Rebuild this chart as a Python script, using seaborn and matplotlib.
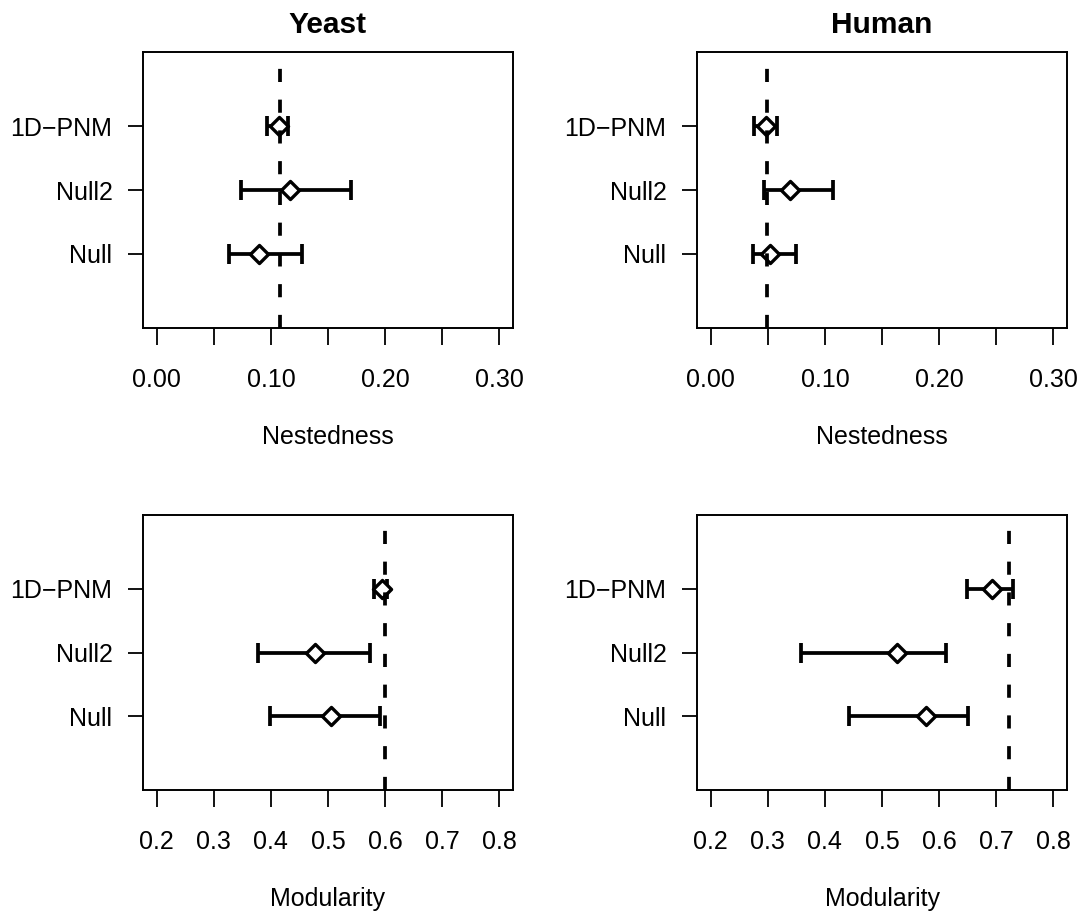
import numpy as np
import pandas as pd
import matplotlib
matplotlib.use('Agg')
import matplotlib.pyplot as plt
import seaborn as sns

# model labels, bottom to top
models = ['Null', 'Null2', '1D\u2212PNM']

# Yeast nestedness: point estimate and interval
yeast_nest_mid = [0.090, 0.117, 0.107]
yeast_nest_low = [0.063, 0.074, 0.097]
yeast_nest_high = [0.127, 0.170, 0.115]
yeast_nest_obs = 0.108

# Human nestedness
human_nest_mid = [0.052, 0.069, 0.048]
human_nest_low = [0.037, 0.047, 0.038]
human_nest_high = [0.075, 0.107, 0.058]
human_nest_obs = 0.049

# Yeast modularity
yeast_mod_mid = [0.505, 0.478, 0.595]
yeast_mod_low = [0.398, 0.377, 0.581]
yeast_mod_high = [0.591, 0.574, 0.604]
yeast_mod_obs = 0.600

# Human modularity
human_mod_mid = [0.577, 0.526, 0.693]
human_mod_low = [0.443, 0.359, 0.649]
human_mod_high = [0.651, 0.612, 0.730]
human_mod_obs = 0.722

nest_ticks = [0.0, 0.05, 0.10, 0.15, 0.20, 0.25, 0.30]
nest_labels = ['0.00', '', '0.10', '', '0.20', '', '0.30']
mod_ticks = [0.2, 0.3, 0.4, 0.5, 0.6, 0.7, 0.8]
mod_labels = ['0.2', '0.3', '0.4', '0.5', '0.6', '0.7', '0.8']

sns.set_theme(style='ticks')
plt.rcParams['font.family'] = ['Liberation Sans', 'DejaVu Sans']
plt.rcParams['text.color'] = 'black'
plt.rcParams['axes.labelcolor'] = 'black'
plt.rcParams['axes.titlecolor'] = 'black'

FS = 18

fig = plt.figure(figsize=(10.85, 9.15), dpi=100)
W, H = 1085.0, 915.0


def panel(rect_px, mid, low, high, obs, ticks, labels, xlabel, title=None):
    l, t, r, b = rect_px
    ax = fig.add_axes([l / W, 1 - b / H, (r - l) / W, (b - t) / H])
    df = pd.DataFrame({'model': models, 'y': [1, 2, 3], 'mid': mid,
                       'low': low, 'high': high})
    xerr = np.vstack([df['mid'] - df['low'], df['high'] - df['mid']])
    ax.errorbar(df['mid'], df['y'], xerr=xerr, fmt='none', ecolor='black',
                elinewidth=2.7, capsize=7.5, capthick=2.7, zorder=2)
    sns.scatterplot(data=df, x='mid', y='y', marker='D', s=85,
                    facecolor='white', edgecolor='black', linewidth=2.4,
                    zorder=3, ax=ax)
    vl = ax.axvline(obs, color='black', lw=2.7, zorder=4)
    vl.set_dashes([3.5, 4.7])

    lo, hi = ticks[0], ticks[-1]
    pad = 0.04 * (hi - lo)
    ax.set_xlim(lo - pad, hi + pad)
    ax.set_ylim(-0.16, 4.16)
    ax.set_xticks(ticks)
    ax.set_xticklabels(labels)
    ax.set_yticks([1, 2, 3])
    ax.set_yticklabels(models)
    ax.tick_params(axis='x', length=12, width=1.3, pad=17, labelsize=FS,
                   color='black', labelcolor='black')
    ax.tick_params(axis='y', length=11, width=1.3, pad=11, labelsize=FS,
                   color='black', labelcolor='black')
    for s in ax.spines.values():
        s.set_linewidth(1.4)
        s.set_color('black')
    ax.set_ylabel('')
    ax.set_xlabel(xlabel, fontsize=FS, va='center')
    ax.xaxis.set_label_coords(0.5, -0.395)
    if title:
        ax.set_title(title, fontsize=21.5, fontweight='bold', pad=14)
    return ax


panel((143, 52, 513, 328), yeast_nest_mid, yeast_nest_low, yeast_nest_high,
      yeast_nest_obs, nest_ticks, nest_labels, 'Nestedness', 'Yeast')
panel((697, 52, 1067, 328), human_nest_mid, human_nest_low, human_nest_high,
      human_nest_obs, nest_ticks, nest_labels, 'Nestedness', 'Human')
panel((143, 515, 513, 790), yeast_mod_mid, yeast_mod_low, yeast_mod_high,
      yeast_mod_obs, mod_ticks, mod_labels, 'Modularity')
panel((697, 515, 1067, 790), human_mod_mid, human_mod_low, human_mod_high,
      human_mod_obs, mod_ticks, mod_labels, 'Modularity')

fig.savefig('out.png', dpi=100, facecolor='white')
